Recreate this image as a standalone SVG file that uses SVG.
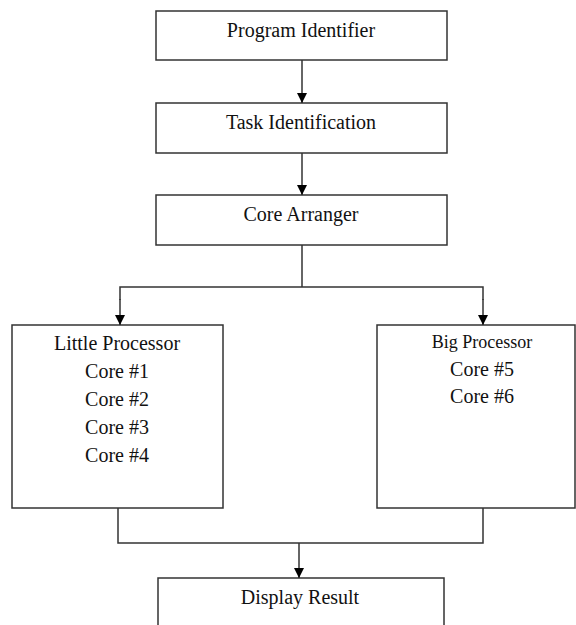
<svg xmlns="http://www.w3.org/2000/svg" width="576" height="625" viewBox="0 0 576 625">
<defs>
<marker id="ah" viewBox="0 0 10 10" refX="10" refY="5" markerWidth="10" markerHeight="10" markerUnits="userSpaceOnUse" orient="auto">
<path d="M0,0 L10,5 L0,10 z" fill="#000"/>
</marker>
<style>
.box{fill:#fff;stroke:#333;stroke-width:1.5}
.t{font-family:"Liberation Serif","Times New Roman",serif;font-size:20px;fill:#111;text-anchor:middle}
.c{fill:none;stroke:#333;stroke-width:1.5}
</style>
</defs>
<rect width="576" height="625" fill="#fff"/>
<g id="program-identifier"><rect class="box" x="156" y="11" width="291" height="49"/><text class="t" x="301" y="37">Program Identifier</text></g>
<g id="task-identification"><rect class="box" x="156" y="103" width="291" height="50"/><text class="t" x="301" y="129">Task Identification</text></g>
<g id="core-arranger"><rect class="box" x="156" y="195" width="291" height="50"/><text class="t" x="301" y="221">Core Arranger</text></g>
<g id="little-processor"><rect class="box" x="12" y="325" width="211" height="183"/>
<text class="t" x="117" y="350">Little Processor</text>
<text class="t" x="117" y="378">Core #1</text>
<text class="t" x="117" y="406">Core #2</text>
<text class="t" x="117" y="434">Core #3</text>
<text class="t" x="117" y="462">Core #4</text></g>
<g id="big-processor"><rect class="box" x="377" y="325" width="198" height="183"/>
<text class="t" x="482" y="348" style="font-size:18px">Big Processor</text>
<text class="t" x="482" y="376">Core #5</text>
<text class="t" x="482" y="403">Core #6</text></g>
<g id="display-result"><rect class="box" x="158" y="578" width="286" height="60"/><text class="t" x="300" y="604">Display Result</text></g>
<g id="connectors">
<line class="c" x1="302" y1="60" x2="302" y2="103" marker-end="url(#ah)"/>
<line class="c" x1="302" y1="153" x2="302" y2="195" marker-end="url(#ah)"/>
<polyline class="c" points="302,245 302,287"/>
<polyline class="c" points="120,300 120,287 483,287 483,300"/>
<line class="c" x1="120" y1="299" x2="120" y2="325" marker-end="url(#ah)"/>
<line class="c" x1="483" y1="299" x2="483" y2="325" marker-end="url(#ah)"/>
<polyline class="c" points="118,508 118,543 483,543 483,508"/>
<line class="c" x1="299" y1="543" x2="299" y2="578" marker-end="url(#ah)"/>
</g>
</svg>
